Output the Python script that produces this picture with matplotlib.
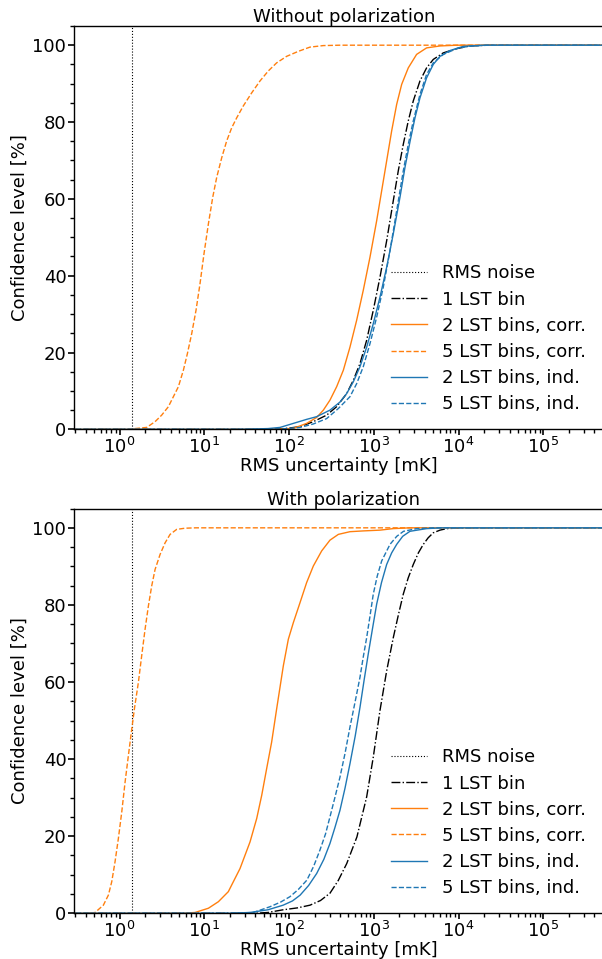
import numpy as np
import matplotlib
matplotlib.use("Agg")
import matplotlib.pyplot as plt
from matplotlib.ticker import MultipleLocator, AutoMinorLocator, FixedLocator, LogLocator

# RMS noise level [mK]
rms_noise = 1.42

labels = ["RMS noise", "1 LST bin", "2 LST bins, corr.", "5 LST bins, corr.",
          "2 LST bins, ind.", "5 LST bins, ind."]

# ---- Without polarization: log10(RMS uncertainty / mK), confidence level [%]
nopol_1bin_lx = [-0.6, 1.7, 1.95, 2.129, 2.286, 2.443, 2.561, 2.679, 2.758, 2.836, 2.915, 2.993, 3.072, 3.151,
                 3.229, 3.288, 3.347, 3.406, 3.465, 3.544, 3.622, 3.701, 3.819, 3.976, 4.133, 4.35, 5.9]
nopol_1bin_y = [0.0, 0.0, 0.2, 0.7, 2.0, 3.7, 5.9, 9.3, 12.8, 17.1, 23.2, 31.0, 39.6, 49.1,
                59.5, 67.3, 74.2, 80.3, 85.5, 90.7, 94.1, 96.3, 98.0, 99.1, 99.8, 100.0, 100.0]

nopol_2corr_lx = [-0.6, 1.7, 1.9, 2.050, 2.207, 2.325, 2.404, 2.482, 2.561, 2.640, 2.718, 2.797, 2.875, 2.954,
                  3.033, 3.092, 3.151, 3.210, 3.269, 3.328, 3.406, 3.504, 3.622, 3.780, 3.976, 5.9]
nopol_2corr_y = [0.0, 0.0, 0.1, 0.25, 1.55, 3.1, 5.0, 7.6, 11.1, 15.4, 21.4, 28.4, 36.2, 44.8,
                 54.3, 62.1, 69.9, 77.7, 84.6, 89.8, 94.1, 97.6, 99.3, 99.8, 100.0, 100.0]

nopol_5corr_lx = [-0.6, 0.15, 0.183, 0.320, 0.419, 0.497, 0.576, 0.635, 0.694, 0.753, 0.800, 0.851, 0.902, 0.949,
                  0.996, 1.048, 1.099, 1.146, 1.205, 1.264, 1.323, 1.382, 1.460, 1.559, 1.657, 1.755, 1.853,
                  1.971, 2.109, 2.246, 2.404, 2.6, 5.9]
nopol_5corr_y = [0.0, 0.0, 0.2, 0.5, 2.0, 3.7, 5.9, 8.5, 11.1, 15.4, 19.7, 24.9, 31.0, 37.9,
                 45.7, 53.5, 60.4, 65.6, 70.7, 75.1, 78.5, 81.1, 84.2, 87.6, 90.7, 93.3, 95.4,
                 97.1, 98.4, 99.5, 99.9, 100.0, 100.0]

nopol_2ind_lx = [-0.6, 1.3, 1.5, 1.75, 1.893, 2.050, 2.207, 2.325, 2.482, 2.600, 2.679, 2.758, 2.836, 2.915, 2.993,
                 3.072, 3.151, 3.229, 3.308, 3.367, 3.428, 3.485, 3.544, 3.622, 3.701, 3.780, 3.897, 4.055, 4.3, 5.9]
nopol_2ind_y = [0.0, 0.0, 0.05, 0.2, 0.5, 1.55, 2.6, 3.3, 5.0, 7.1, 9.3, 12.4, 16.3, 21.4, 27.5,
                34.4, 42.2, 50.9, 60.4, 68.2, 75.1, 81.1, 86.3, 91.5, 95.0, 97.1, 98.6, 99.7, 100.0, 100.0]

nopol_5ind_lx = [-0.6, 1.7, 1.95, 2.129, 2.286, 2.443, 2.580, 2.718, 2.797, 2.875, 2.954, 3.033, 3.111, 3.190,
                 3.269, 3.347, 3.406, 3.465, 3.544, 3.622, 3.701, 3.819, 3.976, 4.133, 4.35, 5.9]
nopol_5ind_y = [0.0, 0.0, 0.15, 0.5, 1.4, 2.8, 5.4, 8.5, 11.9, 16.3, 22.3, 29.2, 37.0, 46.5,
                56.9, 67.3, 74.2, 80.3, 87.2, 92.4, 95.4, 97.6, 99.1, 99.8, 100.0, 100.0]

# ---- With polarization
pol_1bin_lx = [-0.6, 1.6, 1.75, 1.93, 2.10, 2.247, 2.37, 2.482, 2.58, 2.68, 2.80, 2.915, 2.993, 3.072, 3.151,
               3.229, 3.29, 3.347, 3.405, 3.465, 3.525, 3.583, 3.64, 3.70, 3.78, 3.86, 4.0, 4.15, 5.9]
pol_1bin_y = [0.0, 0.0, 0.2, 0.9, 1.4, 2.1, 3.3, 5.2, 8.5, 12.9, 19.8, 30.2, 40.5, 52.6, 62.9,
              71.5, 77.5, 82.8, 87.0, 90.5, 93.5, 95.7, 97.4, 98.7, 99.4, 99.8, 99.95, 100.0, 100.0]

pol_2corr_lx = [-0.6, 0.75, 0.890, 1.048, 1.166, 1.283, 1.421, 1.539, 1.618, 1.677, 1.735, 1.794, 1.853, 1.932,
                1.991, 2.050, 2.129, 2.207, 2.286, 2.384, 2.482, 2.581, 2.718, 2.875, 3.072, 3.229, 3.426, 5.9]
pol_2corr_y = [0.0, 0.0, 0.2, 1.3, 3.0, 5.6, 11.6, 18.5, 24.6, 30.6, 37.5, 44.4, 53.0, 64.2,
               71.1, 75.4, 80.6, 85.8, 90.1, 94.0, 96.8, 98.3, 99.0, 99.2, 99.4, 99.8, 100.0, 100.0]

pol_5corr_lx = [-0.6, -0.35, -0.289, -0.191, -0.132, -0.092, -0.053, -0.014, 0.026, 0.065, 0.104, 0.144, 0.175,
                0.222, 0.261, 0.301, 0.340, 0.379, 0.419, 0.478, 0.537, 0.596, 0.674, 0.772, 0.9, 5.9]
pol_5corr_y = [0.0, 0.0, 0.2, 2.1, 4.7, 8.2, 13.4, 19.4, 26.3, 34.0, 40.9, 47.8, 53.0,
               59.9, 66.8, 73.7, 79.7, 84.9, 89.2, 93.1, 96.1, 98.3, 99.6, 99.9, 100.0, 100.0]

pol_2ind_lx = [-0.6, 1.3, 1.539, 1.75, 1.93, 2.04, 2.13, 2.23, 2.325, 2.41, 2.482, 2.54, 2.60, 2.66, 2.718, 2.78,
               2.836, 2.885, 2.934, 2.985, 3.033, 3.09, 3.151, 3.21, 3.269, 3.34, 3.426, 3.623, 3.8, 5.9]
pol_2ind_y = [0.0, 0.0, 0.2, 0.9, 2.1, 3.2, 4.7, 7.2, 10.3, 14.0, 18.1, 22.2, 26.7, 32.5, 38.8, 46.0,
              53.4, 60.5, 67.3, 74.0, 80.2, 85.8, 90.5, 93.5, 95.7, 97.8, 99.1, 99.8, 100.0, 100.0]

pol_5ind_lx = [-0.6, 1.3, 1.578, 1.775, 1.90, 2.01, 2.11, 2.21, 2.29, 2.364, 2.43, 2.482, 2.54, 2.60, 2.66, 2.718,
               2.78, 2.836, 2.875, 2.915, 2.955, 2.993, 3.04, 3.092, 3.19, 3.27, 3.35, 3.505, 3.7, 5.9]
pol_5ind_y = [0.0, 0.0, 0.2, 1.7, 2.9, 4.3, 6.2, 8.6, 12.2, 16.4, 20.6, 25.0, 30.0, 35.3, 41.5, 48.3,
              55.0, 61.2, 66.5, 71.5, 77.2, 82.8, 87.5, 91.4, 95.7, 97.8, 99.1, 99.8, 100.0, 100.0]

x_ticks = [1e0, 1e1, 1e2, 1e3, 1e4, 1e5]

panels = [
    ("Without polarization",
     [(nopol_1bin_lx, nopol_1bin_y), (nopol_2corr_lx, nopol_2corr_y), (nopol_5corr_lx, nopol_5corr_y),
      (nopol_2ind_lx, nopol_2ind_y), (nopol_5ind_lx, nopol_5ind_y)]),
    ("With polarization",
     [(pol_1bin_lx, pol_1bin_y), (pol_2corr_lx, pol_2corr_y), (pol_5corr_lx, pol_5corr_y),
      (pol_2ind_lx, pol_2ind_y), (pol_5ind_lx, pol_5ind_y)]),
]

styles = [
    dict(color="k", ls="-."),
    dict(color="C1", ls="-"),
    dict(color="C1", ls="--"),
    dict(color="C0", ls="-"),
    dict(color="C0", ls="--"),
]

fig = plt.figure(figsize=(6.02, 9.59), dpi=100)
ax_top = fig.add_axes([0.1229, 0.5523, 0.897, 0.4206])
ax_bot = fig.add_axes([0.1229, 0.0477, 0.897, 0.4220])

for ax, (title, curves) in zip([ax_top, ax_bot], panels):
    ax.axvline(rms_noise, color="k", ls=":", lw=0.8, label=labels[0])
    for (lx, y), st, lab in zip(curves, styles, labels[1:]):
        ax.plot(np.power(10.0, lx), y, lw=1.0, label=lab, **st)
    ax.set_xscale("log")
    ax.set_xlim(0.29, 6.8e5)
    ax.set_ylim(0, 105)
    ax.xaxis.set_major_locator(FixedLocator(x_ticks))
    ax.xaxis.set_minor_locator(LogLocator(base=10, subs=np.arange(2, 10), numticks=20))
    ax.yaxis.set_major_locator(MultipleLocator(20))
    ax.yaxis.set_minor_locator(AutoMinorLocator(4))
    ax.tick_params(which="major", labelsize=13, length=4.5, width=1.2, pad=1)
    ax.tick_params(which="minor", length=3, width=1.0)
    for sp in ax.spines.values():
        sp.set_linewidth(1.0)
    ax.set_title(title, fontsize=13, pad=2)
    ax.set_xlabel("RMS uncertainty [mK]", fontsize=13)
    ax.set_ylabel("Confidence level [%]", fontsize=13)
    ax.xaxis.set_label_coords(0.49, -0.068)
    ax.yaxis.set_label_coords(-0.083, 0.5)
    ax.legend(loc="lower right", frameon=False, fontsize=13,
              bbox_to_anchor=(0.978, 0.0), handlelength=2.0, labelspacing=0.45)

plt.savefig("out.png", dpi=100)
